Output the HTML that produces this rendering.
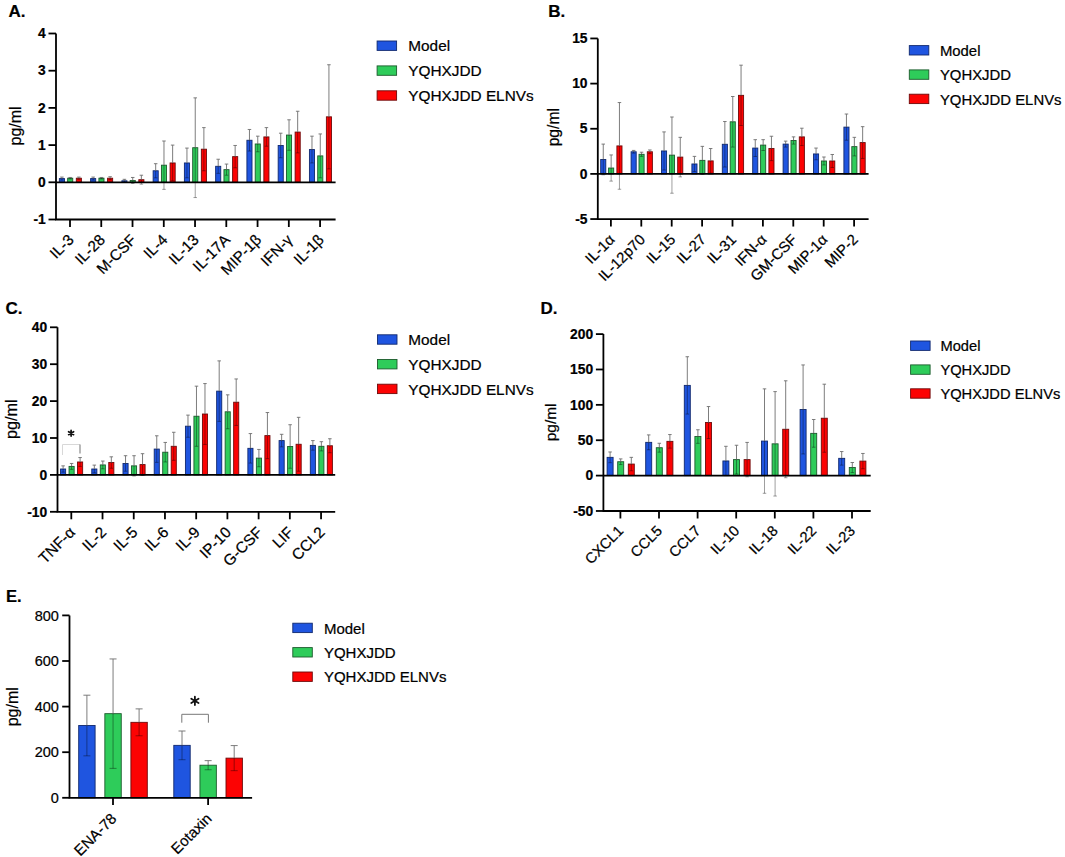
<!DOCTYPE html>
<html><head><meta charset="utf-8"><style>
html,body{margin:0;padding:0;background:#fff;}
svg{display:block;}
text{font-family:"Liberation Sans",sans-serif;fill:#000;stroke:#000;stroke-width:0.22px;}
</style></head><body>
<svg width="1065" height="857" viewBox="0 0 1065 857">
<rect width="1065" height="857" fill="#fff"/>
<rect x="59.35" y="178.58" width="5.1" height="3.72" fill="#1f55e0" stroke="#10286e" stroke-width="0.9"/>
<rect x="67.65" y="178.21" width="5.1" height="4.09" fill="#2ecc5a" stroke="#1c5a2c" stroke-width="0.9"/>
<rect x="76.3" y="178.21" width="5.1" height="4.09" fill="#fc0303" stroke="#6e0a0a" stroke-width="0.9"/>
<path d="M61.9 177.09V178.58M60.15 177.09h3.5" stroke="#6e6e6e" stroke-width="0.9" fill="none"/>
<path d="M61.9 178.58V180.07M60.15 180.07h3.5" stroke="#000" stroke-opacity="0.42" stroke-width="0.9" fill="none"/>
<path d="M70.2 177.46V178.21M68.45 177.46h3.5" stroke="#6e6e6e" stroke-width="0.9" fill="none"/>
<path d="M70.2 178.21V178.95M68.45 178.95h3.5" stroke="#000" stroke-opacity="0.42" stroke-width="0.9" fill="none"/>
<path d="M78.85 177.09V178.21M77.1 177.09h3.5" stroke="#6e6e6e" stroke-width="0.9" fill="none"/>
<path d="M78.85 178.21V179.32M77.1 179.32h3.5" stroke="#000" stroke-opacity="0.42" stroke-width="0.9" fill="none"/>
<rect x="90.61" y="178.58" width="5.1" height="3.72" fill="#1f55e0" stroke="#10286e" stroke-width="0.9"/>
<rect x="98.91" y="178.21" width="5.1" height="4.09" fill="#2ecc5a" stroke="#1c5a2c" stroke-width="0.9"/>
<rect x="107.56" y="178.21" width="5.1" height="4.09" fill="#fc0303" stroke="#6e0a0a" stroke-width="0.9"/>
<path d="M93.16 177.09V178.58M91.41 177.09h3.5" stroke="#6e6e6e" stroke-width="0.9" fill="none"/>
<path d="M93.16 178.58V180.07M91.41 180.07h3.5" stroke="#000" stroke-opacity="0.42" stroke-width="0.9" fill="none"/>
<path d="M101.46 177.46V178.21M99.71 177.46h3.5" stroke="#6e6e6e" stroke-width="0.9" fill="none"/>
<path d="M101.46 178.21V178.95M99.71 178.95h3.5" stroke="#000" stroke-opacity="0.42" stroke-width="0.9" fill="none"/>
<path d="M110.11 176.72V178.21M108.36 176.72h3.5" stroke="#6e6e6e" stroke-width="0.9" fill="none"/>
<path d="M110.11 178.21V179.7M108.36 179.7h3.5" stroke="#000" stroke-opacity="0.42" stroke-width="0.9" fill="none"/>
<rect x="121.87" y="180.81" width="5.1" height="1.49" fill="#1f55e0" stroke="#10286e" stroke-width="0.9"/>
<rect x="130.17" y="180.44" width="5.1" height="1.86" fill="#2ecc5a" stroke="#1c5a2c" stroke-width="0.9"/>
<rect x="138.82" y="179.7" width="5.1" height="2.6" fill="#fc0303" stroke="#6e0a0a" stroke-width="0.9"/>
<path d="M124.42 179.32V180.81M122.67 179.32h3.5" stroke="#6e6e6e" stroke-width="0.9" fill="none"/>
<path d="M124.42 180.81V182.3M122.67 182.3h3.5" stroke="#000" stroke-opacity="0.42" stroke-width="0.9" fill="none"/>
<path d="M132.72 177.46V180.44M130.97 177.46h3.5" stroke="#6e6e6e" stroke-width="0.9" fill="none"/>
<path d="M132.72 180.44V183.42M130.97 183.42h3.5" stroke="#000" stroke-opacity="0.42" stroke-width="0.9" fill="none"/>
<path d="M141.37 175.23V179.7M139.62 175.23h3.5" stroke="#6e6e6e" stroke-width="0.9" fill="none"/>
<path d="M141.37 179.7V184.16M139.62 184.16h3.5" stroke="#000" stroke-opacity="0.42" stroke-width="0.9" fill="none"/>
<rect x="153.13" y="170.77" width="5.1" height="11.53" fill="#1f55e0" stroke="#10286e" stroke-width="0.9"/>
<rect x="161.43" y="165.19" width="5.1" height="17.11" fill="#2ecc5a" stroke="#1c5a2c" stroke-width="0.9"/>
<rect x="170.08" y="162.96" width="5.1" height="19.34" fill="#fc0303" stroke="#6e0a0a" stroke-width="0.9"/>
<path d="M155.68 163.7V170.77M153.93 163.7h3.5" stroke="#6e6e6e" stroke-width="0.9" fill="none"/>
<path d="M155.68 170.77V177.84M153.93 177.84h3.5" stroke="#000" stroke-opacity="0.42" stroke-width="0.9" fill="none"/>
<path d="M163.98 141.01V165.19M162.23 141.01h3.5" stroke="#6e6e6e" stroke-width="0.9" fill="none"/>
<path d="M163.98 165.19V189.37M162.23 189.37h3.5" stroke="#000" stroke-opacity="0.42" stroke-width="0.9" fill="none"/>
<path d="M172.63 145.1V162.96M170.88 145.1h3.5" stroke="#6e6e6e" stroke-width="0.9" fill="none"/>
<path d="M172.63 162.96V180.81M170.88 180.81h3.5" stroke="#000" stroke-opacity="0.42" stroke-width="0.9" fill="none"/>
<rect x="184.39" y="162.96" width="5.1" height="19.34" fill="#1f55e0" stroke="#10286e" stroke-width="0.9"/>
<rect x="192.69" y="147.7" width="5.1" height="34.6" fill="#2ecc5a" stroke="#1c5a2c" stroke-width="0.9"/>
<rect x="201.34" y="149.19" width="5.1" height="33.11" fill="#fc0303" stroke="#6e0a0a" stroke-width="0.9"/>
<path d="M186.94 148.08V162.96M185.19 148.08h3.5" stroke="#6e6e6e" stroke-width="0.9" fill="none"/>
<path d="M186.94 162.96V177.84M185.19 177.84h3.5" stroke="#000" stroke-opacity="0.42" stroke-width="0.9" fill="none"/>
<path d="M195.24 97.86V147.7M193.49 97.86h3.5" stroke="#6e6e6e" stroke-width="0.9" fill="none"/>
<path d="M195.24 147.7V197.55M193.49 197.55h3.5" stroke="#000" stroke-opacity="0.42" stroke-width="0.9" fill="none"/>
<path d="M203.89 127.62V149.19M202.14 127.62h3.5" stroke="#6e6e6e" stroke-width="0.9" fill="none"/>
<path d="M203.89 149.19V170.77M202.14 170.77h3.5" stroke="#000" stroke-opacity="0.42" stroke-width="0.9" fill="none"/>
<rect x="215.65" y="166.3" width="5.1" height="16" fill="#1f55e0" stroke="#10286e" stroke-width="0.9"/>
<rect x="223.95" y="169.65" width="5.1" height="12.65" fill="#2ecc5a" stroke="#1c5a2c" stroke-width="0.9"/>
<rect x="232.6" y="156.63" width="5.1" height="25.67" fill="#fc0303" stroke="#6e0a0a" stroke-width="0.9"/>
<path d="M218.2 159.24V166.3M216.45 159.24h3.5" stroke="#6e6e6e" stroke-width="0.9" fill="none"/>
<path d="M218.2 166.3V173.37M216.45 173.37h3.5" stroke="#000" stroke-opacity="0.42" stroke-width="0.9" fill="none"/>
<path d="M226.5 164.07V169.65M224.75 164.07h3.5" stroke="#6e6e6e" stroke-width="0.9" fill="none"/>
<path d="M226.5 169.65V175.23M224.75 175.23h3.5" stroke="#000" stroke-opacity="0.42" stroke-width="0.9" fill="none"/>
<path d="M235.15 145.47V156.63M233.4 145.47h3.5" stroke="#6e6e6e" stroke-width="0.9" fill="none"/>
<path d="M235.15 156.63V167.79M233.4 167.79h3.5" stroke="#000" stroke-opacity="0.42" stroke-width="0.9" fill="none"/>
<rect x="246.91" y="140.26" width="5.1" height="42.04" fill="#1f55e0" stroke="#10286e" stroke-width="0.9"/>
<rect x="255.21" y="143.98" width="5.1" height="38.32" fill="#2ecc5a" stroke="#1c5a2c" stroke-width="0.9"/>
<rect x="263.86" y="136.92" width="5.1" height="45.38" fill="#fc0303" stroke="#6e0a0a" stroke-width="0.9"/>
<path d="M249.46 129.48V140.26M247.71 129.48h3.5" stroke="#6e6e6e" stroke-width="0.9" fill="none"/>
<path d="M249.46 140.26V151.05M247.71 151.05h3.5" stroke="#000" stroke-opacity="0.42" stroke-width="0.9" fill="none"/>
<path d="M257.76 136.17V143.98M256.01 136.17h3.5" stroke="#6e6e6e" stroke-width="0.9" fill="none"/>
<path d="M257.76 143.98V151.8M256.01 151.8h3.5" stroke="#000" stroke-opacity="0.42" stroke-width="0.9" fill="none"/>
<path d="M266.41 127.62V136.92M264.66 127.62h3.5" stroke="#6e6e6e" stroke-width="0.9" fill="none"/>
<path d="M266.41 136.92V146.22M264.66 146.22h3.5" stroke="#000" stroke-opacity="0.42" stroke-width="0.9" fill="none"/>
<rect x="278.17" y="145.47" width="5.1" height="36.83" fill="#1f55e0" stroke="#10286e" stroke-width="0.9"/>
<rect x="286.47" y="135.06" width="5.1" height="47.24" fill="#2ecc5a" stroke="#1c5a2c" stroke-width="0.9"/>
<rect x="295.12" y="132.08" width="5.1" height="50.22" fill="#fc0303" stroke="#6e0a0a" stroke-width="0.9"/>
<path d="M280.72 133.2V145.47M278.97 133.2h3.5" stroke="#6e6e6e" stroke-width="0.9" fill="none"/>
<path d="M280.72 145.47V157.75M278.97 157.75h3.5" stroke="#000" stroke-opacity="0.42" stroke-width="0.9" fill="none"/>
<path d="M289.02 119.8V135.06M287.27 119.8h3.5" stroke="#6e6e6e" stroke-width="0.9" fill="none"/>
<path d="M289.02 135.06V150.31M287.27 150.31h3.5" stroke="#000" stroke-opacity="0.42" stroke-width="0.9" fill="none"/>
<path d="M297.67 111.25V132.08M295.92 111.25h3.5" stroke="#6e6e6e" stroke-width="0.9" fill="none"/>
<path d="M297.67 132.08V152.91M295.92 152.91h3.5" stroke="#000" stroke-opacity="0.42" stroke-width="0.9" fill="none"/>
<rect x="309.43" y="149.56" width="5.1" height="32.74" fill="#1f55e0" stroke="#10286e" stroke-width="0.9"/>
<rect x="317.73" y="155.89" width="5.1" height="26.41" fill="#2ecc5a" stroke="#1c5a2c" stroke-width="0.9"/>
<rect x="326.38" y="116.83" width="5.1" height="65.47" fill="#fc0303" stroke="#6e0a0a" stroke-width="0.9"/>
<path d="M311.98 136.17V149.56M310.23 136.17h3.5" stroke="#6e6e6e" stroke-width="0.9" fill="none"/>
<path d="M311.98 149.56V162.96M310.23 162.96h3.5" stroke="#000" stroke-opacity="0.42" stroke-width="0.9" fill="none"/>
<path d="M320.28 133.94V155.89M318.53 133.94h3.5" stroke="#6e6e6e" stroke-width="0.9" fill="none"/>
<path d="M320.28 155.89V177.84M318.53 177.84h3.5" stroke="#000" stroke-opacity="0.42" stroke-width="0.9" fill="none"/>
<path d="M328.93 64.75V116.83M327.18 64.75h3.5" stroke="#6e6e6e" stroke-width="0.9" fill="none"/>
<path d="M328.93 116.83V168.91M327.18 168.91h3.5" stroke="#000" stroke-opacity="0.42" stroke-width="0.9" fill="none"/>
<path d="M56 33.5V219.5H335.6" stroke="#000" stroke-width="1.8" fill="none"/>
<path d="M56 182.3H335.6" stroke="#000" stroke-width="1.8" fill="none"/>
<path d="M48.5 33.5H56" stroke="#000" stroke-width="1.8"/>
<text x="45.7" y="38.2" text-anchor="end" font-size="13.8" font-weight="bold">4</text>
<path d="M48.5 70.7H56" stroke="#000" stroke-width="1.8"/>
<text x="45.7" y="75.4" text-anchor="end" font-size="13.8" font-weight="bold">3</text>
<path d="M48.5 107.9H56" stroke="#000" stroke-width="1.8"/>
<text x="45.7" y="112.6" text-anchor="end" font-size="13.8" font-weight="bold">2</text>
<path d="M48.5 145.1H56" stroke="#000" stroke-width="1.8"/>
<text x="45.7" y="149.8" text-anchor="end" font-size="13.8" font-weight="bold">1</text>
<path d="M48.5 182.3H56" stroke="#000" stroke-width="1.8"/>
<text x="45.7" y="187" text-anchor="end" font-size="13.8" font-weight="bold">0</text>
<path d="M48.5 219.5H56" stroke="#000" stroke-width="1.8"/>
<text x="45.7" y="224.2" text-anchor="end" font-size="13.8" font-weight="bold">-1</text>
<path d="M70 219.5V227" stroke="#000" stroke-width="1.8"/>
<text x="74.7" y="240.8" text-anchor="end" font-size="15.3" transform="rotate(-45 74.7 240.8)">IL-3</text>
<path d="M101.26 219.5V227" stroke="#000" stroke-width="1.8"/>
<text x="105.96" y="240.8" text-anchor="end" font-size="15.3" transform="rotate(-45 105.96 240.8)">IL-28</text>
<path d="M132.52 219.5V227" stroke="#000" stroke-width="1.8"/>
<text x="137.22" y="240.8" text-anchor="end" font-size="15.3" transform="rotate(-45 137.22 240.8)">M-CSF</text>
<path d="M163.78 219.5V227" stroke="#000" stroke-width="1.8"/>
<text x="168.48" y="240.8" text-anchor="end" font-size="15.3" transform="rotate(-45 168.48 240.8)">IL-4</text>
<path d="M195.04 219.5V227" stroke="#000" stroke-width="1.8"/>
<text x="199.74" y="240.8" text-anchor="end" font-size="15.3" transform="rotate(-45 199.74 240.8)">IL-13</text>
<path d="M226.3 219.5V227" stroke="#000" stroke-width="1.8"/>
<text x="231" y="240.8" text-anchor="end" font-size="15.3" transform="rotate(-45 231 240.8)">IL-17A</text>
<path d="M257.56 219.5V227" stroke="#000" stroke-width="1.8"/>
<text x="262.26" y="240.8" text-anchor="end" font-size="15.3" transform="rotate(-45 262.26 240.8)">MIP-1β</text>
<path d="M288.82 219.5V227" stroke="#000" stroke-width="1.8"/>
<text x="293.52" y="240.8" text-anchor="end" font-size="15.3" transform="rotate(-45 293.52 240.8)">IFN-γ</text>
<path d="M320.08 219.5V227" stroke="#000" stroke-width="1.8"/>
<text x="324.78" y="240.8" text-anchor="end" font-size="15.3" transform="rotate(-45 324.78 240.8)">IL-1β</text>
<text x="21.5" y="125.9" text-anchor="middle" font-size="16.0" transform="rotate(-90 21.5 125.9)">pg/ml</text>
<text x="8.5" y="17.2" font-size="17" font-weight="bold">A.</text>
<rect x="377.1" y="41" width="19.5" height="9.4" fill="#1f55e0" stroke="#10286e" stroke-width="0.9"/>
<text x="408.3" y="51.3" font-size="15.35">Model</text>
<rect x="377.1" y="65.9" width="19.5" height="9.4" fill="#2ecc5a" stroke="#1c5a2c" stroke-width="0.9"/>
<text x="408.3" y="76.2" font-size="15.35">YQHXJDD</text>
<rect x="377.1" y="90.8" width="19.5" height="9.4" fill="#fc0303" stroke="#6e0a0a" stroke-width="0.9"/>
<text x="408.3" y="101.1" font-size="15.35">YQHXJDD ELNVs</text>
<rect x="600.7" y="159.45" width="5.1" height="14.45" fill="#1f55e0" stroke="#10286e" stroke-width="0.9"/>
<rect x="608.6" y="168.03" width="5.1" height="5.87" fill="#2ecc5a" stroke="#1c5a2c" stroke-width="0.9"/>
<rect x="616.9" y="145.91" width="5.1" height="27.99" fill="#fc0303" stroke="#6e0a0a" stroke-width="0.9"/>
<path d="M603.25 144.1V159.45M601.5 144.1h3.5" stroke="#6e6e6e" stroke-width="0.9" fill="none"/>
<path d="M603.25 159.45V174.8M601.5 174.8h3.5" stroke="#000" stroke-opacity="0.42" stroke-width="0.9" fill="none"/>
<path d="M611.15 154.94V168.03M609.4 154.94h3.5" stroke="#6e6e6e" stroke-width="0.9" fill="none"/>
<path d="M611.15 168.03V181.12M609.4 181.12h3.5" stroke="#000" stroke-opacity="0.42" stroke-width="0.9" fill="none"/>
<path d="M619.45 102.56V145.91M617.7 102.56h3.5" stroke="#6e6e6e" stroke-width="0.9" fill="none"/>
<path d="M619.45 145.91V189.25M617.7 189.25h3.5" stroke="#000" stroke-opacity="0.42" stroke-width="0.9" fill="none"/>
<rect x="631.1" y="151.78" width="5.1" height="22.12" fill="#1f55e0" stroke="#10286e" stroke-width="0.9"/>
<rect x="639" y="154.3" width="5.1" height="19.6" fill="#2ecc5a" stroke="#1c5a2c" stroke-width="0.9"/>
<rect x="647.3" y="151.78" width="5.1" height="22.12" fill="#fc0303" stroke="#6e0a0a" stroke-width="0.9"/>
<path d="M633.65 150.42V151.78M631.9 150.42h3.5" stroke="#6e6e6e" stroke-width="0.9" fill="none"/>
<path d="M633.65 151.78V153.13M631.9 153.13h3.5" stroke="#000" stroke-opacity="0.42" stroke-width="0.9" fill="none"/>
<path d="M641.55 152.23V154.3M639.8 152.23h3.5" stroke="#6e6e6e" stroke-width="0.9" fill="none"/>
<path d="M641.55 154.3V156.38M639.8 156.38h3.5" stroke="#000" stroke-opacity="0.42" stroke-width="0.9" fill="none"/>
<path d="M649.85 149.97V151.78M648.1 149.97h3.5" stroke="#6e6e6e" stroke-width="0.9" fill="none"/>
<path d="M649.85 151.78V153.58M648.1 153.58h3.5" stroke="#000" stroke-opacity="0.42" stroke-width="0.9" fill="none"/>
<rect x="661.5" y="150.96" width="5.1" height="22.94" fill="#1f55e0" stroke="#10286e" stroke-width="0.9"/>
<rect x="669.4" y="155.12" width="5.1" height="18.78" fill="#2ecc5a" stroke="#1c5a2c" stroke-width="0.9"/>
<rect x="677.7" y="157.1" width="5.1" height="16.8" fill="#fc0303" stroke="#6e0a0a" stroke-width="0.9"/>
<path d="M664.05 131.91V150.96M662.3 131.91h3.5" stroke="#6e6e6e" stroke-width="0.9" fill="none"/>
<path d="M664.05 150.96V170.02M662.3 170.02h3.5" stroke="#000" stroke-opacity="0.42" stroke-width="0.9" fill="none"/>
<path d="M671.95 117.01V155.12M670.2 117.01h3.5" stroke="#6e6e6e" stroke-width="0.9" fill="none"/>
<path d="M671.95 155.12V193.22M670.2 193.22h3.5" stroke="#000" stroke-opacity="0.42" stroke-width="0.9" fill="none"/>
<path d="M680.25 137.33V157.1M678.5 137.33h3.5" stroke="#6e6e6e" stroke-width="0.9" fill="none"/>
<path d="M680.25 157.1V176.88M678.5 176.88h3.5" stroke="#000" stroke-opacity="0.42" stroke-width="0.9" fill="none"/>
<rect x="691.9" y="163.97" width="5.1" height="9.93" fill="#1f55e0" stroke="#10286e" stroke-width="0.9"/>
<rect x="699.8" y="160.36" width="5.1" height="13.54" fill="#2ecc5a" stroke="#1c5a2c" stroke-width="0.9"/>
<rect x="708.1" y="160.9" width="5.1" height="13" fill="#fc0303" stroke="#6e0a0a" stroke-width="0.9"/>
<path d="M694.45 156.38V163.97M692.7 156.38h3.5" stroke="#6e6e6e" stroke-width="0.9" fill="none"/>
<path d="M694.45 163.97V171.55M692.7 171.55h3.5" stroke="#000" stroke-opacity="0.42" stroke-width="0.9" fill="none"/>
<path d="M702.35 146.36V160.36M700.6 146.36h3.5" stroke="#6e6e6e" stroke-width="0.9" fill="none"/>
<path d="M702.35 160.36V174.35M700.6 174.35h3.5" stroke="#000" stroke-opacity="0.42" stroke-width="0.9" fill="none"/>
<path d="M710.65 148.53V160.9M708.9 148.53h3.5" stroke="#6e6e6e" stroke-width="0.9" fill="none"/>
<path d="M710.65 160.9V173.27M708.9 173.27h3.5" stroke="#000" stroke-opacity="0.42" stroke-width="0.9" fill="none"/>
<rect x="722.3" y="144.28" width="5.1" height="29.62" fill="#1f55e0" stroke="#10286e" stroke-width="0.9"/>
<rect x="730.2" y="121.8" width="5.1" height="52.1" fill="#2ecc5a" stroke="#1c5a2c" stroke-width="0.9"/>
<rect x="738.5" y="95.34" width="5.1" height="78.56" fill="#fc0303" stroke="#6e0a0a" stroke-width="0.9"/>
<path d="M724.85 121.53V144.28M723.1 121.53h3.5" stroke="#6e6e6e" stroke-width="0.9" fill="none"/>
<path d="M724.85 144.28V167.04M723.1 167.04h3.5" stroke="#000" stroke-opacity="0.42" stroke-width="0.9" fill="none"/>
<path d="M732.75 96.51V121.8M731 96.51h3.5" stroke="#6e6e6e" stroke-width="0.9" fill="none"/>
<path d="M732.75 121.8V147.08M731 147.08h3.5" stroke="#000" stroke-opacity="0.42" stroke-width="0.9" fill="none"/>
<path d="M741.05 65.18V95.34M739.3 65.18h3.5" stroke="#6e6e6e" stroke-width="0.9" fill="none"/>
<path d="M741.05 95.34V125.5M739.3 125.5h3.5" stroke="#000" stroke-opacity="0.42" stroke-width="0.9" fill="none"/>
<rect x="752.7" y="148.07" width="5.1" height="25.83" fill="#1f55e0" stroke="#10286e" stroke-width="0.9"/>
<rect x="760.6" y="145.09" width="5.1" height="28.81" fill="#2ecc5a" stroke="#1c5a2c" stroke-width="0.9"/>
<rect x="768.9" y="148.44" width="5.1" height="25.46" fill="#fc0303" stroke="#6e0a0a" stroke-width="0.9"/>
<path d="M755.25 139.68V148.07M753.5 139.68h3.5" stroke="#6e6e6e" stroke-width="0.9" fill="none"/>
<path d="M755.25 148.07V156.47M753.5 156.47h3.5" stroke="#000" stroke-opacity="0.42" stroke-width="0.9" fill="none"/>
<path d="M763.15 139.68V145.09M761.4 139.68h3.5" stroke="#6e6e6e" stroke-width="0.9" fill="none"/>
<path d="M763.15 145.09V150.51M761.4 150.51h3.5" stroke="#000" stroke-opacity="0.42" stroke-width="0.9" fill="none"/>
<path d="M771.45 136.24V148.44M769.7 136.24h3.5" stroke="#6e6e6e" stroke-width="0.9" fill="none"/>
<path d="M771.45 148.44V160.63M769.7 160.63h3.5" stroke="#000" stroke-opacity="0.42" stroke-width="0.9" fill="none"/>
<rect x="783.1" y="144.1" width="5.1" height="29.8" fill="#1f55e0" stroke="#10286e" stroke-width="0.9"/>
<rect x="791" y="140.49" width="5.1" height="33.41" fill="#2ecc5a" stroke="#1c5a2c" stroke-width="0.9"/>
<rect x="799.3" y="136.88" width="5.1" height="37.02" fill="#fc0303" stroke="#6e0a0a" stroke-width="0.9"/>
<path d="M785.65 141.12V144.1M783.9 141.12h3.5" stroke="#6e6e6e" stroke-width="0.9" fill="none"/>
<path d="M785.65 144.1V147.08M783.9 147.08h3.5" stroke="#000" stroke-opacity="0.42" stroke-width="0.9" fill="none"/>
<path d="M793.55 136.88V140.49M791.8 136.88h3.5" stroke="#6e6e6e" stroke-width="0.9" fill="none"/>
<path d="M793.55 140.49V144.1M791.8 144.1h3.5" stroke="#000" stroke-opacity="0.42" stroke-width="0.9" fill="none"/>
<path d="M801.85 128.21V136.88M800.1 128.21h3.5" stroke="#6e6e6e" stroke-width="0.9" fill="none"/>
<path d="M801.85 136.88V145.55M800.1 145.55h3.5" stroke="#000" stroke-opacity="0.42" stroke-width="0.9" fill="none"/>
<rect x="813.5" y="153.94" width="5.1" height="19.96" fill="#1f55e0" stroke="#10286e" stroke-width="0.9"/>
<rect x="821.4" y="160.99" width="5.1" height="12.91" fill="#2ecc5a" stroke="#1c5a2c" stroke-width="0.9"/>
<rect x="829.7" y="160.99" width="5.1" height="12.91" fill="#fc0303" stroke="#6e0a0a" stroke-width="0.9"/>
<path d="M816.05 148.07V153.94M814.3 148.07h3.5" stroke="#6e6e6e" stroke-width="0.9" fill="none"/>
<path d="M816.05 153.94V159.81M814.3 159.81h3.5" stroke="#000" stroke-opacity="0.42" stroke-width="0.9" fill="none"/>
<path d="M823.95 157.01V160.99M822.2 157.01h3.5" stroke="#6e6e6e" stroke-width="0.9" fill="none"/>
<path d="M823.95 160.99V164.96M822.2 164.96h3.5" stroke="#000" stroke-opacity="0.42" stroke-width="0.9" fill="none"/>
<path d="M832.25 154.49V160.99M830.5 154.49h3.5" stroke="#6e6e6e" stroke-width="0.9" fill="none"/>
<path d="M832.25 160.99V167.49M830.5 167.49h3.5" stroke="#000" stroke-opacity="0.42" stroke-width="0.9" fill="none"/>
<rect x="843.9" y="127.12" width="5.1" height="46.78" fill="#1f55e0" stroke="#10286e" stroke-width="0.9"/>
<rect x="851.8" y="146.63" width="5.1" height="27.27" fill="#2ecc5a" stroke="#1c5a2c" stroke-width="0.9"/>
<rect x="860.1" y="142.57" width="5.1" height="31.33" fill="#fc0303" stroke="#6e0a0a" stroke-width="0.9"/>
<path d="M846.45 114.03V127.12M844.7 114.03h3.5" stroke="#6e6e6e" stroke-width="0.9" fill="none"/>
<path d="M846.45 127.12V140.22M844.7 140.22h3.5" stroke="#000" stroke-opacity="0.42" stroke-width="0.9" fill="none"/>
<path d="M854.35 137.33V146.63M852.6 137.33h3.5" stroke="#6e6e6e" stroke-width="0.9" fill="none"/>
<path d="M854.35 146.63V155.93M852.6 155.93h3.5" stroke="#000" stroke-opacity="0.42" stroke-width="0.9" fill="none"/>
<path d="M862.65 126.67V142.57M860.9 126.67h3.5" stroke="#6e6e6e" stroke-width="0.9" fill="none"/>
<path d="M862.65 142.57V158.46M860.9 158.46h3.5" stroke="#000" stroke-opacity="0.42" stroke-width="0.9" fill="none"/>
<path d="M597.8 38.45V219.05H868.6" stroke="#000" stroke-width="1.8" fill="none"/>
<path d="M597.8 173.9H868.6" stroke="#000" stroke-width="1.8" fill="none"/>
<path d="M590.3 38.45H597.8" stroke="#000" stroke-width="1.8"/>
<text x="587.5" y="43.15" text-anchor="end" font-size="13.8" font-weight="bold">15</text>
<path d="M590.3 83.6H597.8" stroke="#000" stroke-width="1.8"/>
<text x="587.5" y="88.3" text-anchor="end" font-size="13.8" font-weight="bold">10</text>
<path d="M590.3 128.75H597.8" stroke="#000" stroke-width="1.8"/>
<text x="587.5" y="133.45" text-anchor="end" font-size="13.8" font-weight="bold">5</text>
<path d="M590.3 173.9H597.8" stroke="#000" stroke-width="1.8"/>
<text x="587.5" y="178.6" text-anchor="end" font-size="13.8" font-weight="bold">0</text>
<path d="M590.3 219.05H597.8" stroke="#000" stroke-width="1.8"/>
<text x="587.5" y="223.75" text-anchor="end" font-size="13.8" font-weight="bold">-5</text>
<path d="M610.9 219.05V226.55" stroke="#000" stroke-width="1.8"/>
<text x="615.6" y="240.5" text-anchor="end" font-size="14.9" transform="rotate(-45 615.6 240.5)">IL-1α</text>
<path d="M641.3 219.05V226.55" stroke="#000" stroke-width="1.8"/>
<text x="646" y="240.5" text-anchor="end" font-size="14.9" transform="rotate(-45 646 240.5)">IL-12p70</text>
<path d="M671.7 219.05V226.55" stroke="#000" stroke-width="1.8"/>
<text x="676.4" y="240.5" text-anchor="end" font-size="14.9" transform="rotate(-45 676.4 240.5)">IL-15</text>
<path d="M702.1 219.05V226.55" stroke="#000" stroke-width="1.8"/>
<text x="706.8" y="240.5" text-anchor="end" font-size="14.9" transform="rotate(-45 706.8 240.5)">IL-27</text>
<path d="M732.5 219.05V226.55" stroke="#000" stroke-width="1.8"/>
<text x="737.2" y="240.5" text-anchor="end" font-size="14.9" transform="rotate(-45 737.2 240.5)">IL-31</text>
<path d="M762.9 219.05V226.55" stroke="#000" stroke-width="1.8"/>
<text x="767.6" y="240.5" text-anchor="end" font-size="14.9" transform="rotate(-45 767.6 240.5)">IFN-α</text>
<path d="M793.3 219.05V226.55" stroke="#000" stroke-width="1.8"/>
<text x="798" y="240.5" text-anchor="end" font-size="14.9" transform="rotate(-45 798 240.5)">GM-CSF</text>
<path d="M823.7 219.05V226.55" stroke="#000" stroke-width="1.8"/>
<text x="828.4" y="240.5" text-anchor="end" font-size="14.9" transform="rotate(-45 828.4 240.5)">MIP-1α</text>
<path d="M854.1 219.05V226.55" stroke="#000" stroke-width="1.8"/>
<text x="858.8" y="240.5" text-anchor="end" font-size="14.9" transform="rotate(-45 858.8 240.5)">MIP-2</text>
<text x="559.1" y="127.2" text-anchor="middle" font-size="15.65" transform="rotate(-90 559.1 127.2)">pg/ml</text>
<text x="548.2" y="17" font-size="17" font-weight="bold">B.</text>
<rect x="909.3" y="45.6" width="19.5" height="9.4" fill="#1f55e0" stroke="#10286e" stroke-width="0.9"/>
<text x="939.9" y="55.9" font-size="14.9">Model</text>
<rect x="909.3" y="69.9" width="19.5" height="9.4" fill="#2ecc5a" stroke="#1c5a2c" stroke-width="0.9"/>
<text x="939.9" y="80.2" font-size="14.9">YQHXJDD</text>
<rect x="909.3" y="94.2" width="19.5" height="9.4" fill="#fc0303" stroke="#6e0a0a" stroke-width="0.9"/>
<text x="939.9" y="104.5" font-size="14.9">YQHXJDD ELNVs</text>
<rect x="60.55" y="469" width="5.1" height="5.9" fill="#1f55e0" stroke="#10286e" stroke-width="0.9"/>
<rect x="69.05" y="466.41" width="5.1" height="8.49" fill="#2ecc5a" stroke="#1c5a2c" stroke-width="0.9"/>
<rect x="77.55" y="461.98" width="5.1" height="12.92" fill="#fc0303" stroke="#6e0a0a" stroke-width="0.9"/>
<path d="M63.1 465.86V469M61.35 465.86h3.5" stroke="#6e6e6e" stroke-width="0.9" fill="none"/>
<path d="M63.1 469V472.13M61.35 472.13h3.5" stroke="#000" stroke-opacity="0.42" stroke-width="0.9" fill="none"/>
<path d="M71.6 463.46V466.41M69.85 463.46h3.5" stroke="#6e6e6e" stroke-width="0.9" fill="none"/>
<path d="M71.6 466.41V469.36M69.85 469.36h3.5" stroke="#000" stroke-opacity="0.42" stroke-width="0.9" fill="none"/>
<path d="M80.1 457.56V461.98M78.35 457.56h3.5" stroke="#6e6e6e" stroke-width="0.9" fill="none"/>
<path d="M80.1 461.98V466.41M78.35 466.41h3.5" stroke="#000" stroke-opacity="0.42" stroke-width="0.9" fill="none"/>
<rect x="91.77" y="469" width="5.1" height="5.9" fill="#1f55e0" stroke="#10286e" stroke-width="0.9"/>
<rect x="100.27" y="464.94" width="5.1" height="9.96" fill="#2ecc5a" stroke="#1c5a2c" stroke-width="0.9"/>
<rect x="108.77" y="462.54" width="5.1" height="12.36" fill="#fc0303" stroke="#6e0a0a" stroke-width="0.9"/>
<path d="M94.32 465.12V469M92.57 465.12h3.5" stroke="#6e6e6e" stroke-width="0.9" fill="none"/>
<path d="M94.32 469V472.87M92.57 472.87h3.5" stroke="#000" stroke-opacity="0.42" stroke-width="0.9" fill="none"/>
<path d="M102.82 461.06V464.94M101.07 461.06h3.5" stroke="#6e6e6e" stroke-width="0.9" fill="none"/>
<path d="M102.82 464.94V468.81M101.07 468.81h3.5" stroke="#000" stroke-opacity="0.42" stroke-width="0.9" fill="none"/>
<path d="M111.32 456.82V462.54M109.57 456.82h3.5" stroke="#6e6e6e" stroke-width="0.9" fill="none"/>
<path d="M111.32 462.54V468.26M109.57 468.26h3.5" stroke="#000" stroke-opacity="0.42" stroke-width="0.9" fill="none"/>
<rect x="122.99" y="463.46" width="5.1" height="11.44" fill="#1f55e0" stroke="#10286e" stroke-width="0.9"/>
<rect x="131.49" y="465.86" width="5.1" height="9.04" fill="#2ecc5a" stroke="#1c5a2c" stroke-width="0.9"/>
<rect x="139.99" y="464.57" width="5.1" height="10.33" fill="#fc0303" stroke="#6e0a0a" stroke-width="0.9"/>
<path d="M125.54 455.71V463.46M123.79 455.71h3.5" stroke="#6e6e6e" stroke-width="0.9" fill="none"/>
<path d="M125.54 463.46V471.21M123.79 471.21h3.5" stroke="#000" stroke-opacity="0.42" stroke-width="0.9" fill="none"/>
<path d="M134.04 455.71V465.86M132.29 455.71h3.5" stroke="#6e6e6e" stroke-width="0.9" fill="none"/>
<path d="M134.04 465.86V476.01M132.29 476.01h3.5" stroke="#000" stroke-opacity="0.42" stroke-width="0.9" fill="none"/>
<path d="M142.54 453.68V464.57M140.79 453.68h3.5" stroke="#6e6e6e" stroke-width="0.9" fill="none"/>
<path d="M142.54 464.57V475.45M140.79 475.45h3.5" stroke="#000" stroke-opacity="0.42" stroke-width="0.9" fill="none"/>
<rect x="154.21" y="449.07" width="5.1" height="25.83" fill="#1f55e0" stroke="#10286e" stroke-width="0.9"/>
<rect x="162.71" y="452.21" width="5.1" height="22.69" fill="#2ecc5a" stroke="#1c5a2c" stroke-width="0.9"/>
<rect x="171.21" y="446.3" width="5.1" height="28.6" fill="#fc0303" stroke="#6e0a0a" stroke-width="0.9"/>
<path d="M156.76 435.79V449.07M155.01 435.79h3.5" stroke="#6e6e6e" stroke-width="0.9" fill="none"/>
<path d="M156.76 449.07V462.35M155.01 462.35h3.5" stroke="#000" stroke-opacity="0.42" stroke-width="0.9" fill="none"/>
<path d="M165.26 442.43V452.21M163.51 442.43h3.5" stroke="#6e6e6e" stroke-width="0.9" fill="none"/>
<path d="M165.26 452.21V461.98M163.51 461.98h3.5" stroke="#000" stroke-opacity="0.42" stroke-width="0.9" fill="none"/>
<path d="M173.76 432.28V446.3M172.01 432.28h3.5" stroke="#6e6e6e" stroke-width="0.9" fill="none"/>
<path d="M173.76 446.3V460.32M172.01 460.32h3.5" stroke="#000" stroke-opacity="0.42" stroke-width="0.9" fill="none"/>
<rect x="185.43" y="426.19" width="5.1" height="48.71" fill="#1f55e0" stroke="#10286e" stroke-width="0.9"/>
<rect x="193.93" y="416.23" width="5.1" height="58.67" fill="#2ecc5a" stroke="#1c5a2c" stroke-width="0.9"/>
<rect x="202.43" y="414.01" width="5.1" height="60.88" fill="#fc0303" stroke="#6e0a0a" stroke-width="0.9"/>
<path d="M187.98 415.12V426.19M186.23 415.12h3.5" stroke="#6e6e6e" stroke-width="0.9" fill="none"/>
<path d="M187.98 426.19V437.26M186.23 437.26h3.5" stroke="#000" stroke-opacity="0.42" stroke-width="0.9" fill="none"/>
<path d="M196.48 386.16V416.23M194.73 386.16h3.5" stroke="#6e6e6e" stroke-width="0.9" fill="none"/>
<path d="M196.48 416.23V446.3M194.73 446.3h3.5" stroke="#000" stroke-opacity="0.42" stroke-width="0.9" fill="none"/>
<path d="M204.98 383.57V414.01M203.23 383.57h3.5" stroke="#6e6e6e" stroke-width="0.9" fill="none"/>
<path d="M204.98 414.01V444.46M203.23 444.46h3.5" stroke="#000" stroke-opacity="0.42" stroke-width="0.9" fill="none"/>
<rect x="216.65" y="391.14" width="5.1" height="83.76" fill="#1f55e0" stroke="#10286e" stroke-width="0.9"/>
<rect x="225.15" y="411.8" width="5.1" height="63.1" fill="#2ecc5a" stroke="#1c5a2c" stroke-width="0.9"/>
<rect x="233.65" y="402.21" width="5.1" height="72.69" fill="#fc0303" stroke="#6e0a0a" stroke-width="0.9"/>
<path d="M219.2 360.88V391.14M217.45 360.88h3.5" stroke="#6e6e6e" stroke-width="0.9" fill="none"/>
<path d="M219.2 391.14V421.39M217.45 421.39h3.5" stroke="#000" stroke-opacity="0.42" stroke-width="0.9" fill="none"/>
<path d="M227.7 394.83V411.8M225.95 394.83h3.5" stroke="#6e6e6e" stroke-width="0.9" fill="none"/>
<path d="M227.7 411.8V428.77M225.95 428.77h3.5" stroke="#000" stroke-opacity="0.42" stroke-width="0.9" fill="none"/>
<path d="M236.2 378.96V402.21M234.45 378.96h3.5" stroke="#6e6e6e" stroke-width="0.9" fill="none"/>
<path d="M236.2 402.21V425.45M234.45 425.45h3.5" stroke="#000" stroke-opacity="0.42" stroke-width="0.9" fill="none"/>
<rect x="247.87" y="448.33" width="5.1" height="26.57" fill="#1f55e0" stroke="#10286e" stroke-width="0.9"/>
<rect x="256.37" y="458.11" width="5.1" height="16.79" fill="#2ecc5a" stroke="#1c5a2c" stroke-width="0.9"/>
<rect x="264.87" y="435.6" width="5.1" height="39.3" fill="#fc0303" stroke="#6e0a0a" stroke-width="0.9"/>
<path d="M250.42 433.57V448.33M248.67 433.57h3.5" stroke="#6e6e6e" stroke-width="0.9" fill="none"/>
<path d="M250.42 448.33V463.09M248.67 463.09h3.5" stroke="#000" stroke-opacity="0.42" stroke-width="0.9" fill="none"/>
<path d="M258.92 449.44V458.11M257.17 449.44h3.5" stroke="#6e6e6e" stroke-width="0.9" fill="none"/>
<path d="M258.92 458.11V466.78M257.17 466.78h3.5" stroke="#000" stroke-opacity="0.42" stroke-width="0.9" fill="none"/>
<path d="M267.42 412.54V435.6M265.67 412.54h3.5" stroke="#6e6e6e" stroke-width="0.9" fill="none"/>
<path d="M267.42 435.6V458.66M265.67 458.66h3.5" stroke="#000" stroke-opacity="0.42" stroke-width="0.9" fill="none"/>
<rect x="279.09" y="440.58" width="5.1" height="34.32" fill="#1f55e0" stroke="#10286e" stroke-width="0.9"/>
<rect x="287.59" y="446.49" width="5.1" height="28.41" fill="#2ecc5a" stroke="#1c5a2c" stroke-width="0.9"/>
<rect x="296.09" y="444.27" width="5.1" height="30.63" fill="#fc0303" stroke="#6e0a0a" stroke-width="0.9"/>
<path d="M281.64 434.31V440.58M279.89 434.31h3.5" stroke="#6e6e6e" stroke-width="0.9" fill="none"/>
<path d="M281.64 440.58V446.86M279.89 446.86h3.5" stroke="#000" stroke-opacity="0.42" stroke-width="0.9" fill="none"/>
<path d="M290.14 424.72V446.49M288.39 424.72h3.5" stroke="#6e6e6e" stroke-width="0.9" fill="none"/>
<path d="M290.14 446.49V468.26M288.39 468.26h3.5" stroke="#000" stroke-opacity="0.42" stroke-width="0.9" fill="none"/>
<path d="M298.64 417.34V444.27M296.89 417.34h3.5" stroke="#6e6e6e" stroke-width="0.9" fill="none"/>
<path d="M298.64 444.27V471.21M296.89 471.21h3.5" stroke="#000" stroke-opacity="0.42" stroke-width="0.9" fill="none"/>
<rect x="310.31" y="445.38" width="5.1" height="29.52" fill="#1f55e0" stroke="#10286e" stroke-width="0.9"/>
<rect x="318.81" y="446.3" width="5.1" height="28.6" fill="#2ecc5a" stroke="#1c5a2c" stroke-width="0.9"/>
<rect x="327.31" y="445.75" width="5.1" height="29.15" fill="#fc0303" stroke="#6e0a0a" stroke-width="0.9"/>
<path d="M312.86 440.58V445.38M311.11 440.58h3.5" stroke="#6e6e6e" stroke-width="0.9" fill="none"/>
<path d="M312.86 445.38V450.18M311.11 450.18h3.5" stroke="#000" stroke-opacity="0.42" stroke-width="0.9" fill="none"/>
<path d="M321.36 441.69V446.3M319.61 441.69h3.5" stroke="#6e6e6e" stroke-width="0.9" fill="none"/>
<path d="M321.36 446.3V450.91M319.61 450.91h3.5" stroke="#000" stroke-opacity="0.42" stroke-width="0.9" fill="none"/>
<path d="M329.86 438.74V445.75M328.11 438.74h3.5" stroke="#6e6e6e" stroke-width="0.9" fill="none"/>
<path d="M329.86 445.75V452.76M328.11 452.76h3.5" stroke="#000" stroke-opacity="0.42" stroke-width="0.9" fill="none"/>
<path d="M57.5 327.3V511.8H335.2" stroke="#000" stroke-width="1.8" fill="none"/>
<path d="M57.5 474.9H335.2" stroke="#000" stroke-width="1.8" fill="none"/>
<path d="M50 327.3H57.5" stroke="#000" stroke-width="1.8"/>
<text x="47.2" y="332" text-anchor="end" font-size="13.8" font-weight="bold">40</text>
<path d="M50 364.2H57.5" stroke="#000" stroke-width="1.8"/>
<text x="47.2" y="368.9" text-anchor="end" font-size="13.8" font-weight="bold">30</text>
<path d="M50 401.1H57.5" stroke="#000" stroke-width="1.8"/>
<text x="47.2" y="405.8" text-anchor="end" font-size="13.8" font-weight="bold">20</text>
<path d="M50 438H57.5" stroke="#000" stroke-width="1.8"/>
<text x="47.2" y="442.7" text-anchor="end" font-size="13.8" font-weight="bold">10</text>
<path d="M50 474.9H57.5" stroke="#000" stroke-width="1.8"/>
<text x="47.2" y="479.6" text-anchor="end" font-size="13.8" font-weight="bold">0</text>
<path d="M50 511.8H57.5" stroke="#000" stroke-width="1.8"/>
<text x="47.2" y="516.5" text-anchor="end" font-size="13.8" font-weight="bold">-10</text>
<path d="M71.3 511.8V519.3" stroke="#000" stroke-width="1.8"/>
<text x="76" y="533.3" text-anchor="end" font-size="15.4" transform="rotate(-45 76 533.3)">TNF-α</text>
<path d="M102.52 511.8V519.3" stroke="#000" stroke-width="1.8"/>
<text x="107.22" y="533.3" text-anchor="end" font-size="15.4" transform="rotate(-45 107.22 533.3)">IL-2</text>
<path d="M133.74 511.8V519.3" stroke="#000" stroke-width="1.8"/>
<text x="138.44" y="533.3" text-anchor="end" font-size="15.4" transform="rotate(-45 138.44 533.3)">IL-5</text>
<path d="M164.96 511.8V519.3" stroke="#000" stroke-width="1.8"/>
<text x="169.66" y="533.3" text-anchor="end" font-size="15.4" transform="rotate(-45 169.66 533.3)">IL-6</text>
<path d="M196.18 511.8V519.3" stroke="#000" stroke-width="1.8"/>
<text x="200.88" y="533.3" text-anchor="end" font-size="15.4" transform="rotate(-45 200.88 533.3)">IL-9</text>
<path d="M227.4 511.8V519.3" stroke="#000" stroke-width="1.8"/>
<text x="232.1" y="533.3" text-anchor="end" font-size="15.4" transform="rotate(-45 232.1 533.3)">IP-10</text>
<path d="M258.62 511.8V519.3" stroke="#000" stroke-width="1.8"/>
<text x="263.32" y="533.3" text-anchor="end" font-size="15.4" transform="rotate(-45 263.32 533.3)">G-CSF</text>
<path d="M289.84 511.8V519.3" stroke="#000" stroke-width="1.8"/>
<text x="294.54" y="533.3" text-anchor="end" font-size="15.4" transform="rotate(-45 294.54 533.3)">LIF</text>
<path d="M321.06 511.8V519.3" stroke="#000" stroke-width="1.8"/>
<text x="325.76" y="533.3" text-anchor="end" font-size="15.4" transform="rotate(-45 325.76 533.3)">CCL2</text>
<text x="16.6" y="419.2" text-anchor="middle" font-size="16.3" transform="rotate(-90 16.6 419.2)">pg/ml</text>
<text x="5.5" y="313.5" font-size="17" font-weight="bold">C.</text>
<rect x="377.5" y="334.8" width="19.5" height="9.4" fill="#1f55e0" stroke="#10286e" stroke-width="0.9"/>
<text x="408.3" y="345.1" font-size="15.35">Model</text>
<rect x="377.5" y="359.5" width="19.5" height="9.4" fill="#2ecc5a" stroke="#1c5a2c" stroke-width="0.9"/>
<text x="408.3" y="369.8" font-size="15.35">YQHXJDD</text>
<rect x="377.5" y="384.2" width="19.5" height="9.4" fill="#fc0303" stroke="#6e0a0a" stroke-width="0.9"/>
<text x="408.3" y="394.5" font-size="15.35">YQHXJDD ELNVs</text>
<rect x="607.1" y="457.35" width="6" height="18.25" fill="#1f55e0" stroke="#10286e" stroke-width="0.9"/>
<rect x="617.7" y="461.73" width="6" height="13.87" fill="#2ecc5a" stroke="#1c5a2c" stroke-width="0.9"/>
<rect x="628.3" y="464.07" width="6" height="11.53" fill="#fc0303" stroke="#6e0a0a" stroke-width="0.9"/>
<path d="M610.1 451.97V457.35M608.35 451.97h3.5" stroke="#6e6e6e" stroke-width="0.9" fill="none"/>
<path d="M610.1 457.35V462.72M608.35 462.72h3.5" stroke="#000" stroke-opacity="0.42" stroke-width="0.9" fill="none"/>
<path d="M620.7 458.9V461.73M618.95 458.9h3.5" stroke="#6e6e6e" stroke-width="0.9" fill="none"/>
<path d="M620.7 461.73V464.56M618.95 464.56h3.5" stroke="#000" stroke-opacity="0.42" stroke-width="0.9" fill="none"/>
<path d="M631.3 457.35V464.07M629.55 457.35h3.5" stroke="#6e6e6e" stroke-width="0.9" fill="none"/>
<path d="M631.3 464.07V470.79M629.55 470.79h3.5" stroke="#000" stroke-opacity="0.42" stroke-width="0.9" fill="none"/>
<rect x="645.7" y="442.35" width="6" height="33.25" fill="#1f55e0" stroke="#10286e" stroke-width="0.9"/>
<rect x="656.3" y="447.72" width="6" height="27.88" fill="#2ecc5a" stroke="#1c5a2c" stroke-width="0.9"/>
<rect x="666.9" y="441.36" width="6" height="34.24" fill="#fc0303" stroke="#6e0a0a" stroke-width="0.9"/>
<path d="M648.7 434.92V442.35M646.95 434.92h3.5" stroke="#6e6e6e" stroke-width="0.9" fill="none"/>
<path d="M648.7 442.35V449.78M646.95 449.78h3.5" stroke="#000" stroke-opacity="0.42" stroke-width="0.9" fill="none"/>
<path d="M659.3 443.27V447.72M657.55 443.27h3.5" stroke="#6e6e6e" stroke-width="0.9" fill="none"/>
<path d="M659.3 447.72V452.18M657.55 452.18h3.5" stroke="#000" stroke-opacity="0.42" stroke-width="0.9" fill="none"/>
<path d="M669.9 434.56V441.36M668.15 434.56h3.5" stroke="#6e6e6e" stroke-width="0.9" fill="none"/>
<path d="M669.9 441.36V448.15M668.15 448.15h3.5" stroke="#000" stroke-opacity="0.42" stroke-width="0.9" fill="none"/>
<rect x="684.3" y="385.39" width="6" height="90.21" fill="#1f55e0" stroke="#10286e" stroke-width="0.9"/>
<rect x="694.9" y="436.55" width="6" height="39.05" fill="#2ecc5a" stroke="#1c5a2c" stroke-width="0.9"/>
<rect x="705.5" y="422.54" width="6" height="53.06" fill="#fc0303" stroke="#6e0a0a" stroke-width="0.9"/>
<path d="M687.3 356.74V385.39M685.55 356.74h3.5" stroke="#6e6e6e" stroke-width="0.9" fill="none"/>
<path d="M687.3 385.39V414.05M685.55 414.05h3.5" stroke="#000" stroke-opacity="0.42" stroke-width="0.9" fill="none"/>
<path d="M697.9 429.75V436.55M696.15 429.75h3.5" stroke="#6e6e6e" stroke-width="0.9" fill="none"/>
<path d="M697.9 436.55V443.34M696.15 443.34h3.5" stroke="#000" stroke-opacity="0.42" stroke-width="0.9" fill="none"/>
<path d="M708.5 406.55V422.54M706.75 406.55h3.5" stroke="#6e6e6e" stroke-width="0.9" fill="none"/>
<path d="M708.5 422.54V438.53M706.75 438.53h3.5" stroke="#000" stroke-opacity="0.42" stroke-width="0.9" fill="none"/>
<rect x="722.9" y="460.95" width="6" height="14.65" fill="#1f55e0" stroke="#10286e" stroke-width="0.9"/>
<rect x="733.5" y="459.61" width="6" height="15.99" fill="#2ecc5a" stroke="#1c5a2c" stroke-width="0.9"/>
<rect x="744.1" y="459.61" width="6" height="15.99" fill="#fc0303" stroke="#6e0a0a" stroke-width="0.9"/>
<path d="M725.9 446.31V460.95M724.15 446.31h3.5" stroke="#6e6e6e" stroke-width="0.9" fill="none"/>
<path d="M725.9 460.95V475.6M724.15 475.6h3.5" stroke="#000" stroke-opacity="0.42" stroke-width="0.9" fill="none"/>
<path d="M736.5 445.25V459.61M734.75 445.25h3.5" stroke="#6e6e6e" stroke-width="0.9" fill="none"/>
<path d="M736.5 459.61V473.97M734.75 473.97h3.5" stroke="#000" stroke-opacity="0.42" stroke-width="0.9" fill="none"/>
<path d="M747.1 442.42V459.61M745.35 442.42h3.5" stroke="#6e6e6e" stroke-width="0.9" fill="none"/>
<path d="M747.1 459.61V476.8M745.35 476.8h3.5" stroke="#000" stroke-opacity="0.42" stroke-width="0.9" fill="none"/>
<rect x="761.5" y="441.07" width="6" height="34.53" fill="#1f55e0" stroke="#10286e" stroke-width="0.9"/>
<rect x="772.1" y="443.83" width="6" height="31.77" fill="#2ecc5a" stroke="#1c5a2c" stroke-width="0.9"/>
<rect x="782.7" y="429.26" width="6" height="46.34" fill="#fc0303" stroke="#6e0a0a" stroke-width="0.9"/>
<path d="M764.5 388.86V441.07M762.75 388.86h3.5" stroke="#6e6e6e" stroke-width="0.9" fill="none"/>
<path d="M764.5 441.07V493.29M762.75 493.29h3.5" stroke="#000" stroke-opacity="0.42" stroke-width="0.9" fill="none"/>
<path d="M775.1 391.62V443.83M773.35 391.62h3.5" stroke="#6e6e6e" stroke-width="0.9" fill="none"/>
<path d="M775.1 443.83V496.05M773.35 496.05h3.5" stroke="#000" stroke-opacity="0.42" stroke-width="0.9" fill="none"/>
<path d="M785.7 380.8V429.26M783.95 380.8h3.5" stroke="#6e6e6e" stroke-width="0.9" fill="none"/>
<path d="M785.7 429.26V477.72M783.95 477.72h3.5" stroke="#000" stroke-opacity="0.42" stroke-width="0.9" fill="none"/>
<rect x="800.1" y="409.45" width="6" height="66.15" fill="#1f55e0" stroke="#10286e" stroke-width="0.9"/>
<rect x="810.7" y="433.36" width="6" height="42.24" fill="#2ecc5a" stroke="#1c5a2c" stroke-width="0.9"/>
<rect x="821.3" y="418.22" width="6" height="57.38" fill="#fc0303" stroke="#6e0a0a" stroke-width="0.9"/>
<path d="M803.1 364.95V409.45M801.35 364.95h3.5" stroke="#6e6e6e" stroke-width="0.9" fill="none"/>
<path d="M803.1 409.45V453.95M801.35 453.95h3.5" stroke="#000" stroke-opacity="0.42" stroke-width="0.9" fill="none"/>
<path d="M813.7 419.5V433.36M811.95 419.5h3.5" stroke="#6e6e6e" stroke-width="0.9" fill="none"/>
<path d="M813.7 433.36V447.23M811.95 447.23h3.5" stroke="#000" stroke-opacity="0.42" stroke-width="0.9" fill="none"/>
<path d="M824.3 384.19V418.22M822.55 384.19h3.5" stroke="#6e6e6e" stroke-width="0.9" fill="none"/>
<path d="M824.3 418.22V452.25M822.55 452.25h3.5" stroke="#000" stroke-opacity="0.42" stroke-width="0.9" fill="none"/>
<rect x="838.7" y="458.34" width="6" height="17.26" fill="#1f55e0" stroke="#10286e" stroke-width="0.9"/>
<rect x="849.3" y="467.53" width="6" height="8.07" fill="#2ecc5a" stroke="#1c5a2c" stroke-width="0.9"/>
<rect x="859.9" y="461.1" width="6" height="14.5" fill="#fc0303" stroke="#6e0a0a" stroke-width="0.9"/>
<path d="M841.7 451.55V458.34M839.95 451.55h3.5" stroke="#6e6e6e" stroke-width="0.9" fill="none"/>
<path d="M841.7 458.34V465.13M839.95 465.13h3.5" stroke="#000" stroke-opacity="0.42" stroke-width="0.9" fill="none"/>
<path d="M852.3 462.51V467.53M850.55 462.51h3.5" stroke="#6e6e6e" stroke-width="0.9" fill="none"/>
<path d="M852.3 467.53V472.56M850.55 472.56h3.5" stroke="#000" stroke-opacity="0.42" stroke-width="0.9" fill="none"/>
<path d="M862.9 453.46V461.1M861.15 453.46h3.5" stroke="#6e6e6e" stroke-width="0.9" fill="none"/>
<path d="M862.9 461.1V468.74M861.15 468.74h3.5" stroke="#000" stroke-opacity="0.42" stroke-width="0.9" fill="none"/>
<path d="M603.4 334.1V510.98H870.7" stroke="#000" stroke-width="1.8" fill="none"/>
<path d="M603.4 475.6H870.7" stroke="#000" stroke-width="1.8" fill="none"/>
<path d="M595.9 334.1H603.4" stroke="#000" stroke-width="1.8"/>
<text x="593.1" y="338.8" text-anchor="end" font-size="13.8" font-weight="bold">200</text>
<path d="M595.9 369.48H603.4" stroke="#000" stroke-width="1.8"/>
<text x="593.1" y="374.18" text-anchor="end" font-size="13.8" font-weight="bold">150</text>
<path d="M595.9 404.85H603.4" stroke="#000" stroke-width="1.8"/>
<text x="593.1" y="409.55" text-anchor="end" font-size="13.8" font-weight="bold">100</text>
<path d="M595.9 440.23H603.4" stroke="#000" stroke-width="1.8"/>
<text x="593.1" y="444.93" text-anchor="end" font-size="13.8" font-weight="bold">50</text>
<path d="M595.9 475.6H603.4" stroke="#000" stroke-width="1.8"/>
<text x="593.1" y="480.3" text-anchor="end" font-size="13.8" font-weight="bold">0</text>
<path d="M595.9 510.98H603.4" stroke="#000" stroke-width="1.8"/>
<text x="593.1" y="515.68" text-anchor="end" font-size="13.8" font-weight="bold">-50</text>
<path d="M620.4 510.98V518.48" stroke="#000" stroke-width="1.8"/>
<text x="624.4" y="531.6" text-anchor="end" font-size="14.7" transform="rotate(-45 624.4 531.6)">CXCL1</text>
<path d="M659 510.98V518.48" stroke="#000" stroke-width="1.8"/>
<text x="663" y="531.6" text-anchor="end" font-size="14.7" transform="rotate(-45 663 531.6)">CCL5</text>
<path d="M697.6 510.98V518.48" stroke="#000" stroke-width="1.8"/>
<text x="701.6" y="531.6" text-anchor="end" font-size="14.7" transform="rotate(-45 701.6 531.6)">CCL7</text>
<path d="M736.2 510.98V518.48" stroke="#000" stroke-width="1.8"/>
<text x="740.2" y="531.6" text-anchor="end" font-size="14.7" transform="rotate(-45 740.2 531.6)">IL-10</text>
<path d="M774.8 510.98V518.48" stroke="#000" stroke-width="1.8"/>
<text x="778.8" y="531.6" text-anchor="end" font-size="14.7" transform="rotate(-45 778.8 531.6)">IL-18</text>
<path d="M813.4 510.98V518.48" stroke="#000" stroke-width="1.8"/>
<text x="817.4" y="531.6" text-anchor="end" font-size="14.7" transform="rotate(-45 817.4 531.6)">IL-22</text>
<path d="M852 510.98V518.48" stroke="#000" stroke-width="1.8"/>
<text x="856" y="531.6" text-anchor="end" font-size="14.7" transform="rotate(-45 856 531.6)">IL-23</text>
<text x="556.2" y="422.4" text-anchor="middle" font-size="15.4" transform="rotate(-90 556.2 422.4)">pg/ml</text>
<text x="540.4" y="313.5" font-size="17" font-weight="bold">D.</text>
<rect x="910.6" y="341" width="19.5" height="9.4" fill="#1f55e0" stroke="#10286e" stroke-width="0.9"/>
<text x="940.4" y="351.3" font-size="14.7">Model</text>
<rect x="910.6" y="364.9" width="19.5" height="9.4" fill="#2ecc5a" stroke="#1c5a2c" stroke-width="0.9"/>
<text x="940.4" y="375.2" font-size="14.7">YQHXJDD</text>
<rect x="910.6" y="388.8" width="19.5" height="9.4" fill="#fc0303" stroke="#6e0a0a" stroke-width="0.9"/>
<text x="940.4" y="399.1" font-size="14.7">YQHXJDD ELNVs</text>
<rect x="78.7" y="725.52" width="16.4" height="72.28" fill="#1f55e0" stroke="#10286e" stroke-width="0.9"/>
<rect x="104.85" y="713.67" width="16.4" height="84.13" fill="#2ecc5a" stroke="#1c5a2c" stroke-width="0.9"/>
<rect x="130.9" y="722.33" width="16.4" height="75.47" fill="#fc0303" stroke="#6e0a0a" stroke-width="0.9"/>
<path d="M86.9 695.2V725.52M83.4 695.2h7" stroke="#6e6e6e" stroke-width="0.9" fill="none"/>
<path d="M86.9 725.52V755.85M83.4 755.85h7" stroke="#000" stroke-opacity="0.42" stroke-width="0.9" fill="none"/>
<path d="M113.05 658.95V713.67M109.55 658.95h7" stroke="#6e6e6e" stroke-width="0.9" fill="none"/>
<path d="M113.05 713.67V768.39M109.55 768.39h7" stroke="#000" stroke-opacity="0.42" stroke-width="0.9" fill="none"/>
<path d="M139.1 708.88V722.33M135.6 708.88h7" stroke="#6e6e6e" stroke-width="0.9" fill="none"/>
<path d="M139.1 722.33V735.78M135.6 735.78h7" stroke="#000" stroke-opacity="0.42" stroke-width="0.9" fill="none"/>
<rect x="173.8" y="745.36" width="16.4" height="52.44" fill="#1f55e0" stroke="#10286e" stroke-width="0.9"/>
<rect x="199.95" y="765.2" width="16.4" height="32.6" fill="#2ecc5a" stroke="#1c5a2c" stroke-width="0.9"/>
<rect x="226" y="758.13" width="16.4" height="39.67" fill="#fc0303" stroke="#6e0a0a" stroke-width="0.9"/>
<path d="M182 731V745.36M178.5 731h7" stroke="#6e6e6e" stroke-width="0.9" fill="none"/>
<path d="M182 745.36V759.72M178.5 759.72h7" stroke="#000" stroke-opacity="0.42" stroke-width="0.9" fill="none"/>
<path d="M208.15 760.64V765.2M204.65 760.64h7" stroke="#6e6e6e" stroke-width="0.9" fill="none"/>
<path d="M208.15 765.2V769.76M204.65 769.76h7" stroke="#000" stroke-opacity="0.42" stroke-width="0.9" fill="none"/>
<path d="M234.2 745.59V758.13M230.7 745.59h7" stroke="#6e6e6e" stroke-width="0.9" fill="none"/>
<path d="M234.2 758.13V770.67M230.7 770.67h7" stroke="#000" stroke-opacity="0.42" stroke-width="0.9" fill="none"/>
<path d="M69.5 615.4V797.8H252.1" stroke="#000" stroke-width="1.8" fill="none"/>
<path d="M62.2 615.4H69.5" stroke="#000" stroke-width="1.8"/>
<text x="58.9" y="620.6" text-anchor="end" font-size="14.5" font-weight="normal">800</text>
<path d="M62.2 661H69.5" stroke="#000" stroke-width="1.8"/>
<text x="58.9" y="666.2" text-anchor="end" font-size="14.5" font-weight="normal">600</text>
<path d="M62.2 706.6H69.5" stroke="#000" stroke-width="1.8"/>
<text x="58.9" y="711.8" text-anchor="end" font-size="14.5" font-weight="normal">400</text>
<path d="M62.2 752.2H69.5" stroke="#000" stroke-width="1.8"/>
<text x="58.9" y="757.4" text-anchor="end" font-size="14.5" font-weight="normal">200</text>
<path d="M62.2 797.8H69.5" stroke="#000" stroke-width="1.8"/>
<text x="58.9" y="803" text-anchor="end" font-size="14.5" font-weight="normal">0</text>
<path d="M113 797.8V805.1" stroke="#000" stroke-width="1.8"/>
<text x="117.5" y="819.5" text-anchor="end" font-size="15" transform="rotate(-45 117.5 819.5)">ENA-78</text>
<path d="M208.1 797.8V805.1" stroke="#000" stroke-width="1.8"/>
<text x="212.6" y="819.5" text-anchor="end" font-size="15" transform="rotate(-45 212.6 819.5)">Eotaxin</text>
<text x="18.2" y="706.8" text-anchor="middle" font-size="16.0" transform="rotate(-90 18.2 706.8)">pg/ml</text>
<text x="5.9" y="602" font-size="16.5" font-weight="bold">E.</text>
<rect x="292.8" y="623.2" width="19.5" height="9.4" fill="#1f55e0" stroke="#10286e" stroke-width="0.9"/>
<text x="323.9" y="633.5" font-size="15">Model</text>
<rect x="292.8" y="647.6" width="19.5" height="9.4" fill="#2ecc5a" stroke="#1c5a2c" stroke-width="0.9"/>
<text x="323.9" y="657.9" font-size="15">YQHXJDD</text>
<rect x="292.8" y="672" width="19.5" height="9.4" fill="#fc0303" stroke="#6e0a0a" stroke-width="0.9"/>
<text x="323.9" y="682.3" font-size="15">YQHXJDD ELNVs</text>
<path d="M62.5 455V444.5H80" stroke="#d8d8d8" stroke-width="1" fill="none"/>
<path d="M80 444.5V453.6" stroke="#8a8a8a" stroke-width="1.2" fill="none"/>
<path d="M71.1 436.1L71.1 430.3M68.59 434.65L73.61 431.75M73.61 434.65L68.59 431.75" stroke="#111" stroke-width="1.7" stroke-linecap="round" fill="none"/>
<path d="M181.8 722.7V714.3H208.4V722.7" stroke="#777" stroke-width="1" fill="none"/>
<path d="M194.9 705.1L194.9 696.7M191.26 703L198.54 698.8M198.54 703L191.26 698.8" stroke="#111" stroke-width="1.8" stroke-linecap="round" fill="none"/>
</svg></body></html>
